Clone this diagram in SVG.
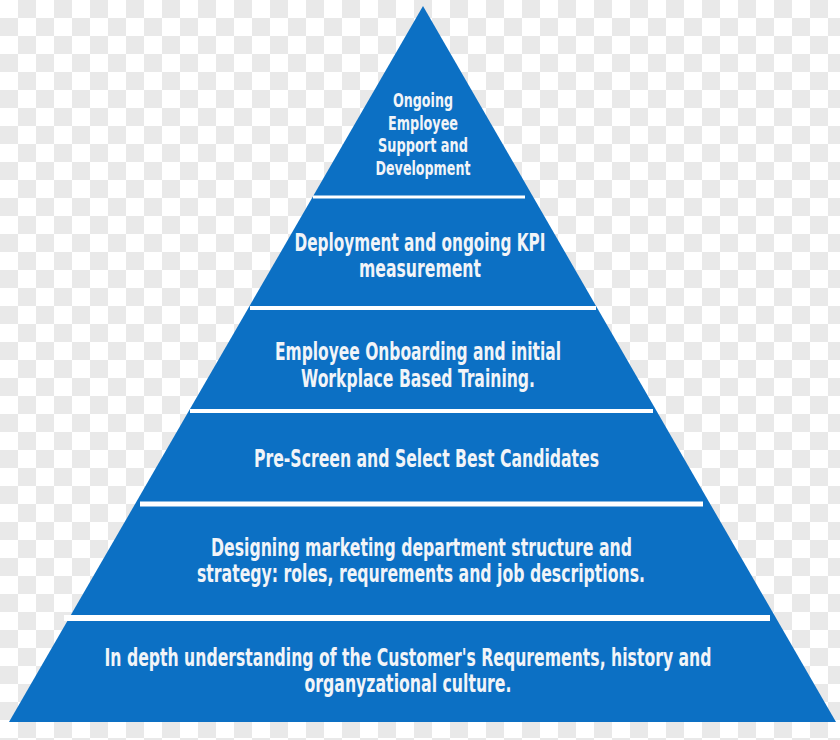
<svg xmlns="http://www.w3.org/2000/svg" width="840" height="740" viewBox="0 0 840 740">
  <defs>
    <pattern id="checker" x="0" y="0" width="36" height="36" patternUnits="userSpaceOnUse">
      <rect x="0" y="0" width="36" height="36" fill="#ffffff"/>
      <rect x="18" y="0" width="18" height="18" fill="#e9e9e9"/>
      <rect x="0" y="18" width="18" height="18" fill="#e9e9e9"/>
    </pattern>
  </defs>
  <style>
    .tier { fill: #0c70c4; }
    .sep { fill: #ffffff; }
    .lbl { font-family: "Liberation Sans Narrow", "DejaVu Sans Condensed", "DejaVu Sans", sans-serif; font-stretch: condensed; font-weight: bold; fill: #f1f4f8; text-anchor: middle; }
    .big { font-size: 24px; }
    .small { font-size: 20px; }
  </style>
  <rect x="0" y="0" width="840" height="740" fill="url(#checker)"/>

  <g id="tier1">
    <polygon class="tier" points="423,6 533.2,197 312.6,197"/>
    <text class="lbl small" x="423" y="107" textLength="60" lengthAdjust="spacingAndGlyphs">Ongoing</text>
    <text class="lbl small" x="423" y="130" textLength="70" lengthAdjust="spacingAndGlyphs">Employee</text>
    <text class="lbl small" x="423" y="152" textLength="90" lengthAdjust="spacingAndGlyphs">Support and</text>
    <text class="lbl small" x="423" y="175" textLength="95" lengthAdjust="spacingAndGlyphs">Development</text>
  </g>
  <g id="tier2">
    <polygon class="tier" points="312.6,197 533.2,197 597.2,308 248.4,308"/>
    <text class="lbl big" x="420" y="251" textLength="251" lengthAdjust="spacingAndGlyphs">Deployment and ongoing KPI</text>
    <text class="lbl big" x="420" y="277" textLength="122" lengthAdjust="spacingAndGlyphs">measurement</text>
  </g>
  <g id="tier3">
    <polygon class="tier" points="248.4,308 597.2,308 656.6,411 188.8,411"/>
    <text class="lbl big" x="418" y="360" textLength="286" lengthAdjust="spacingAndGlyphs">Employee Onboarding and initial</text>
    <text class="lbl big" x="418" y="387" textLength="234" lengthAdjust="spacingAndGlyphs">Workplace Based Training.</text>
  </g>
  <g id="tier4">
    <polygon class="tier" points="188.8,411 656.6,411 710.2,504 135.1,504"/>
    <text class="lbl big" x="426.5" y="467" textLength="345" lengthAdjust="spacingAndGlyphs">Pre-Screen and Select Best Candidates</text>
  </g>
  <g id="tier5">
    <polygon class="tier" points="135.1,504 710.2,504 776,618 69.1,618"/>
    <text class="lbl big" x="421.5" y="556" textLength="421" lengthAdjust="spacingAndGlyphs">Designing marketing department structure and</text>
    <text class="lbl big" x="421" y="582" textLength="448" lengthAdjust="spacingAndGlyphs">strategy: roles, requrements and job descriptions.</text>
  </g>
  <g id="tier6">
    <polygon class="tier" points="69.1,618 776,618 836,722 9,722"/>
    <text class="lbl big" x="408" y="666" textLength="607" lengthAdjust="spacingAndGlyphs">In depth understanding of the Customer's Requrements, history and</text>
    <text class="lbl big" x="408" y="692" textLength="207" lengthAdjust="spacingAndGlyphs">organyzational culture.</text>
  </g>

  <g id="connectors">
    <rect class="sep" x="313" y="195.5" width="212" height="3"/>
    <rect class="sep" x="250" y="306" width="346" height="4"/>
    <rect class="sep" x="190" y="409" width="463" height="4"/>
    <rect class="sep" x="140" y="501.5" width="563" height="5"/>
    <rect class="sep" x="64" y="615" width="706" height="6"/>
  </g>
</svg>
